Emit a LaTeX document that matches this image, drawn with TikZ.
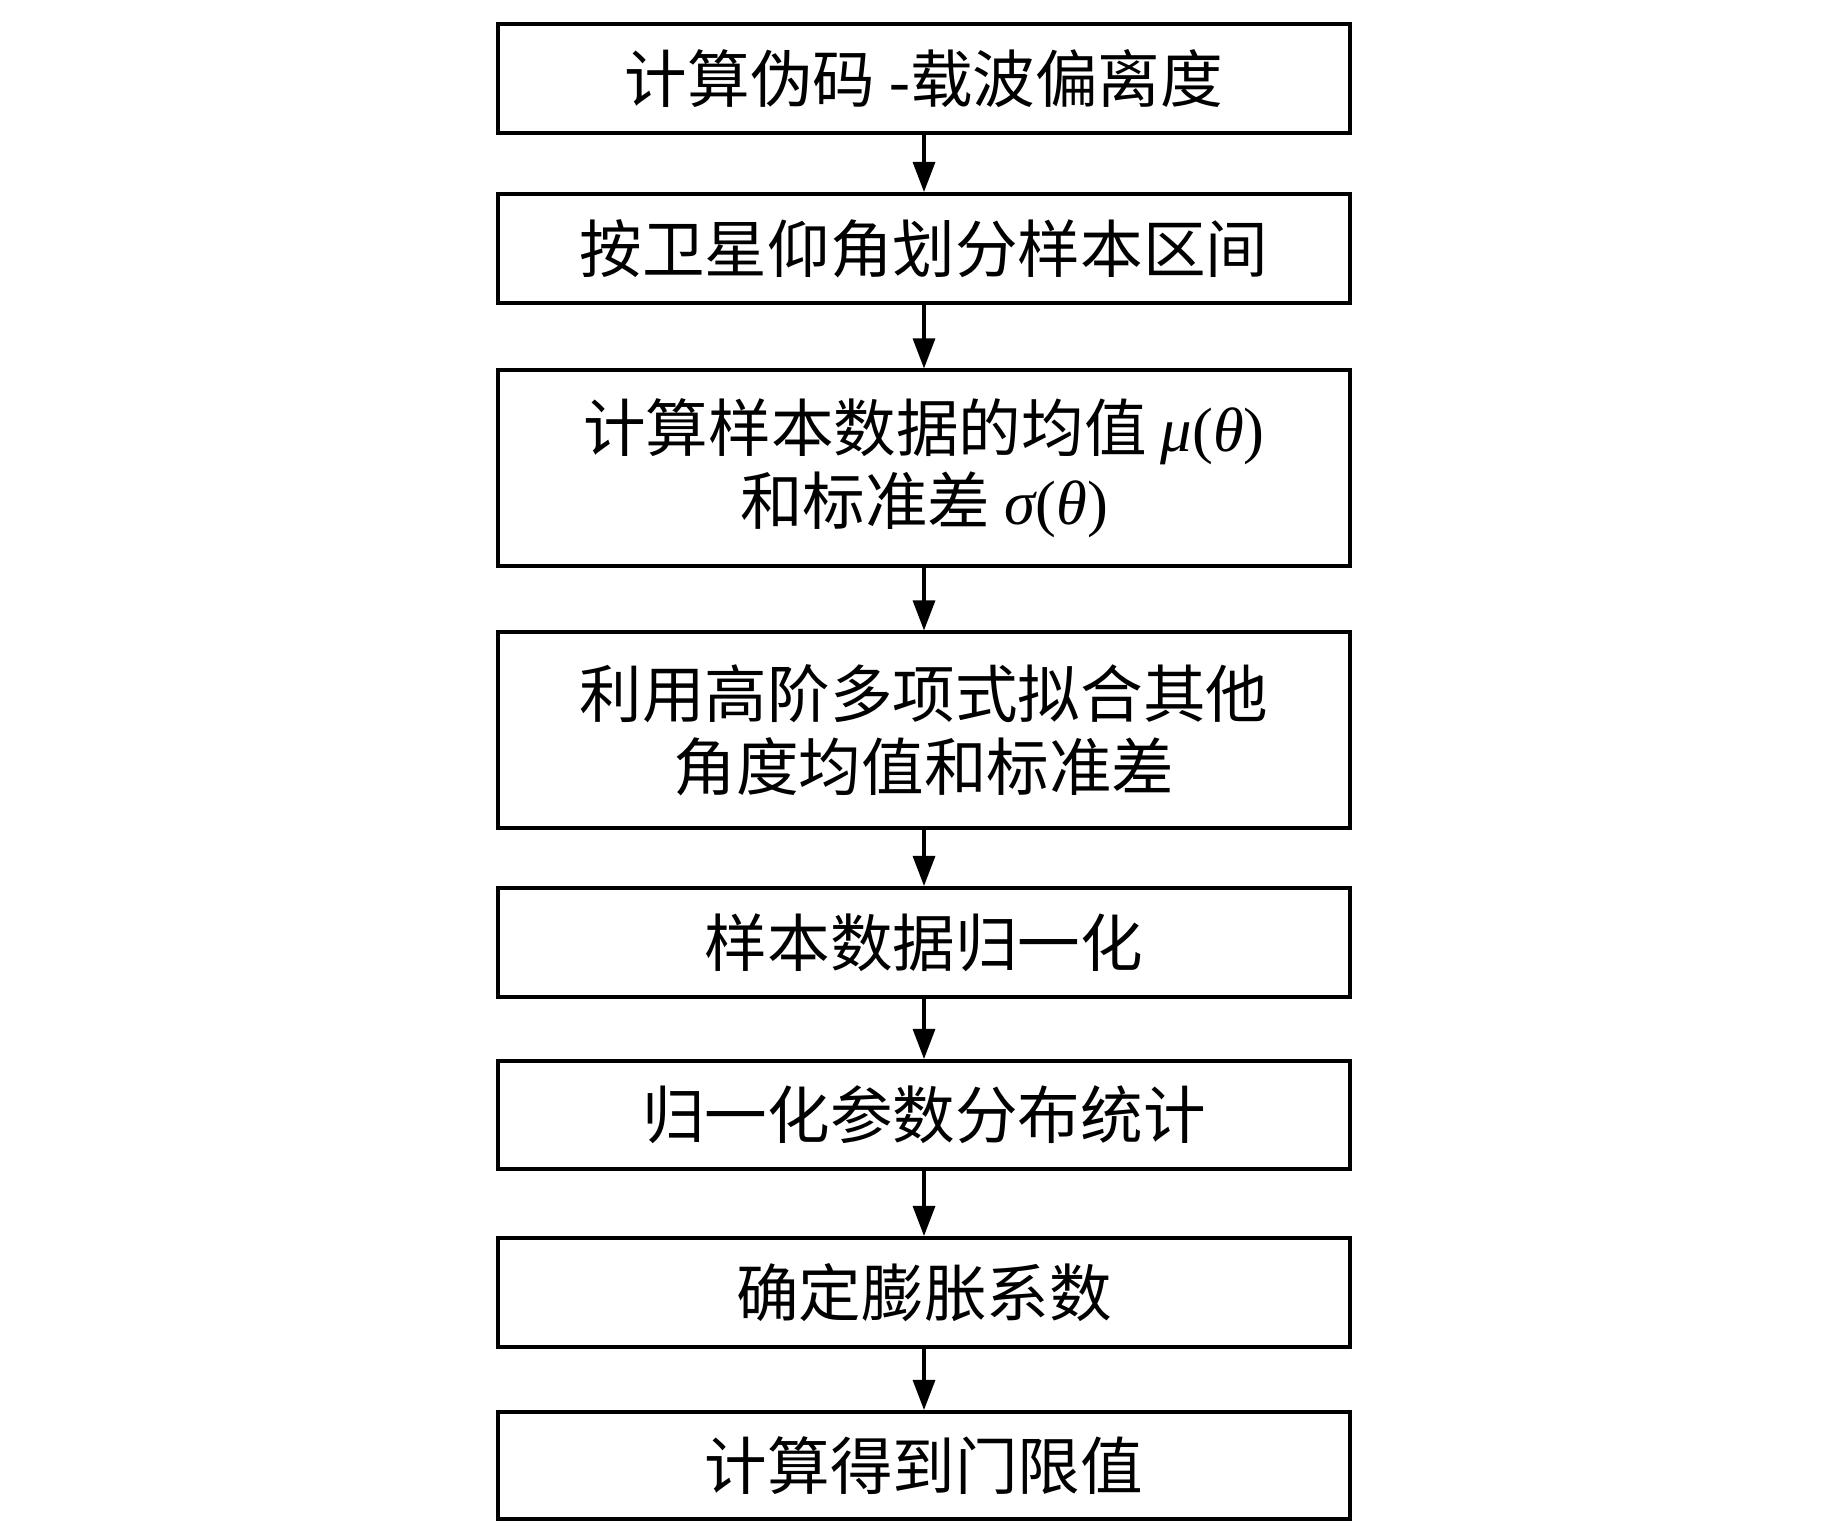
\documentclass[tikz,border=0pt]{standalone}
\usepackage{fontspec}
\setmainfont{Liberation Serif}
\newfontfamily\cjk{Noto Sans CJK SC}
\newfontfamily\lat{Liberation Serif}
\usetikzlibrary{arrows.meta}
\newcommand{\gk}[1]{{\lat\itshape #1}}
\newcommand{\uprm}[1]{{\lat #1}}
\begin{document}
\begin{tikzpicture}[x=0.01cm,y=-0.01cm,
  stepbox/.style={draw=black, line width=0.04cm, rectangle, minimum width=8.52cm,
    inner sep=0pt, align=center, font=\cjk\fontsize{17.8}{20.8}\selectfont},
  flow/.style={line width=0.032cm, -{Triangle[length=0.3cm,width=0.22cm]}}]
\useasboundingbox (0,0) rectangle (1843,1535);
\node[stepbox, minimum height=1.09cm] (b1) at (924,78.5) {计算伪码 \uprm{-}载波偏离度};
\node[stepbox, minimum height=1.09cm] (b2) at (924,248.5) {按卫星仰角划分样本区间};
\node[stepbox, minimum height=1.95cm] (b3) at (924,468) {计算样本数据的均值 \gk{μ}\uprm{(}\gk{θ}\uprm{)}\\和标准差 \gk{σ}\uprm{(}\gk{θ}\uprm{)}};
\node[stepbox, minimum height=1.95cm] (b4) at (924,730) {利用高阶多项式拟合其他\\角度均值和标准差};
\node[stepbox, minimum height=1.09cm] (b5) at (924,942.5) {样本数据归一化};
\node[stepbox, minimum height=1.08cm] (b6) at (924,1115) {归一化参数分布统计};
\node[stepbox, minimum height=1.09cm] (b7) at (924,1292.5) {确定膨胀系数};
\node[stepbox, minimum height=1.07cm] (b8) at (924,1465.5) {计算得到门限值};
\draw[flow] (b1) -- (b2);
\draw[flow] (b2) -- (b3);
\draw[flow] (b3) -- (b4);
\draw[flow] (b4) -- (b5);
\draw[flow] (b5) -- (b6);
\draw[flow] (b6) -- (b7);
\draw[flow] (b7) -- (b8);
\end{tikzpicture}
\end{document}
